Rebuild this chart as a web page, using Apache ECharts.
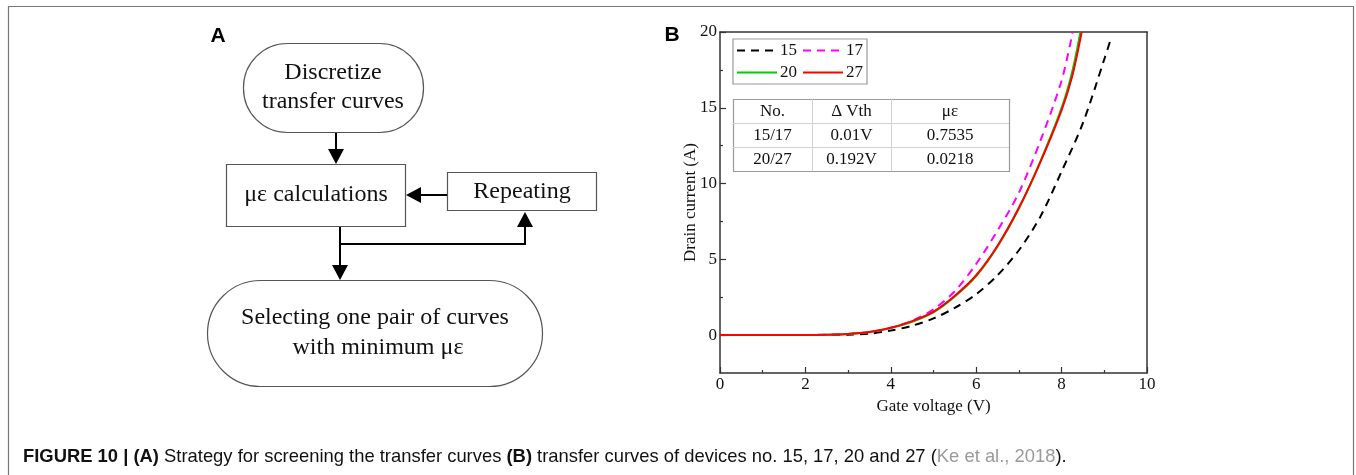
<!DOCTYPE html>
<html>
<head>
<meta charset="utf-8">
<script src="https://cdn.jsdelivr.net/npm/echarts@6/dist/echarts.min.js"></script>
<style>
  html, body { margin: 0; padding: 0; background: #fff; }
  #main { width: 1356px; height: 475px; }
</style>
</head>
<body>
<div id="main"></div>
<script>
// transfer curves
var gate15 = [0, 1, 2, 2.5, 3, 3.5, 4, 4.5, 5, 5.5, 6, 6.5, 7, 7.5, 8, 8.5, 9, 9.17];
var cur15  = [0, 0, 0, 0.01, 0.03, 0.1, 0.3, 0.62, 1.1, 1.8, 2.7, 3.95, 5.6, 7.8, 10.8, 14.0, 18.2, 19.7];
var gate17 = [0, 1, 2, 2.5, 3, 3.5, 4, 4.5, 5, 5.5, 6, 6.5, 7, 7.5, 8, 8.26];
var cur17  = [0, 0, 0.01, 0.03, 0.08, 0.2, 0.48, 0.95, 1.7, 2.9, 4.7, 6.9, 9.4, 12.8, 16.8, 20];
var gate20 = [0, 1, 2, 2.5, 3, 3.5, 4, 4.5, 5, 5.5, 6, 6.5, 7, 7.5, 8, 8.25, 8.44];
var cur20  = [0, 0, 0.01, 0.03, 0.08, 0.2, 0.46, 0.88, 1.5, 2.55, 3.9, 5.85, 8.35, 11.45, 15.0, 17.4, 20];
var gate27 = [0, 1, 2, 2.5, 3, 3.5, 4, 4.5, 5, 5.5, 6, 6.5, 7, 7.5, 8, 8.25, 8.47];
var cur27  = [0, 0, 0.01, 0.03, 0.08, 0.2, 0.48, 0.92, 1.55, 2.6, 3.95, 5.9, 8.4, 11.4, 14.85, 17.1, 20];

var devNames = ['15', '17', '20', '27'];
var yMajor = [0, 5, 10, 15, 20];
var yMinor = [2.5, 7.5, 12.5, 17.5];

// inset table
var tableHead = ['No.', '\u0394 Vth', '\u03bc\u03b5'];
var tableRows = [['15/17', '0.01V', '0.7535'], ['20/27', '0.192V', '0.0218']];

var serif = '"Liberation Serif", "Times New Roman", serif';
var sans = '"Liberation Sans", Arial, sans-serif';

function pairs(xs, ys) {
  var out = [];
  for (var i = 0; i < xs.length; i++) out.push([xs[i], ys[i]]);
  return out;
}

function curve(name, xs, ys, color, type) {
  return {
    name: name,
    type: 'line',
    data: pairs(xs, ys),
    smooth: 0.3,
    symbol: 'none',
    silent: true,
    lineStyle: { color: color, width: 2, type: type === 'dashed' ? [8, 6] : 'solid' },
    itemStyle: { color: color }
  };
}

// ---- table graphic ----
function buildTable() {
  var colX = [733, 812, 891, 1009];
  var rowY = [99, 123, 147, 171];
  var els = [];
  els.push({ type: 'rect', shape: { x: colX[0] + 0.5, y: rowY[0] + 0.5, width: colX[3] - colX[0], height: rowY[3] - rowY[0] },
    style: { fill: '#fff', stroke: '#9a9a9a', lineWidth: 1.2 } });
  for (var c = 1; c < 3; c++) {
    els.push({ type: 'line', shape: { x1: colX[c] + 0.5, y1: rowY[0], x2: colX[c] + 0.5, y2: rowY[3] }, style: { stroke: '#d0d0d0', lineWidth: 1 } });
  }
  for (var r = 1; r < 3; r++) {
    els.push({ type: 'line', shape: { x1: colX[0], y1: rowY[r] + 0.5, x2: colX[3], y2: rowY[r] + 0.5 }, style: { stroke: '#d0d0d0', lineWidth: 1 } });
  }
  var rows = [tableHead].concat(tableRows);
  for (var i = 0; i < rows.length; i++) {
    for (var j = 0; j < 3; j++) {
      els.push({ type: 'text', x: (colX[j] + colX[j + 1]) / 2, y: (rowY[i] + rowY[i + 1]) / 2 + 1,
        style: { text: rows[i][j], fill: '#111', font: '17px ' + serif, align: 'center', verticalAlign: 'middle' } });
    }
  }
  return els;
}

// ---- flowchart graphic ----
function head(x, y, dir) {
  // triangle with tip at (x,y)
  var w = 8, l = 15, pts;
  if (dir === 'down') pts = [[x, y], [x - w, y - l], [x + w, y - l]];
  else if (dir === 'up') pts = [[x, y], [x - w, y + l], [x + w, y + l]];
  else pts = [[x, y], [x + l, y - w], [x + l, y + w]];
  return { type: 'polygon', shape: { points: pts }, style: { fill: '#000' } };
}
function seg(points) {
  return { type: 'polyline', shape: { points: points }, style: { stroke: '#000', lineWidth: 2, fill: null } };
}
function txt(x, y, s, size) {
  return { type: 'text', x: x, y: y, style: { text: s, fill: '#111', font: (size || 24) + 'px ' + serif, align: 'center', verticalAlign: 'middle' } };
}
function buildFlow() {
  var box = { fill: '#fff', stroke: '#555', lineWidth: 1.2 };
  return [
    { type: 'rect', shape: { x: 243.5, y: 43.5, width: 180, height: 89, r: 44 }, style: box },
    txt(333, 73, 'Discretize'), txt(333, 102, 'transfer curves'),
    seg([[336, 133], [336, 150]]), head(336, 164, 'down'),
    { type: 'rect', shape: { x: 226.5, y: 164.5, width: 179, height: 62 }, style: box },
    txt(316, 195, '\u03bc\u03b5 calculations'),
    { type: 'rect', shape: { x: 447.5, y: 172.5, width: 149, height: 38 }, style: box },
    txt(522, 192, 'Repeating'),
    seg([[447, 195], [420, 195]]), head(406, 195, 'left'),
    seg([[340, 227], [340, 244], [525, 244], [525, 226]]), head(525, 212, 'up'),
    seg([[340, 244], [340, 266]]), head(340, 280, 'down'),
    { type: 'rect', shape: { x: 207.5, y: 280.5, width: 335, height: 106, r: 53 }, style: box },
    txt(375, 318, 'Selecting one pair of curves'), txt(378, 348, 'with minimum \u03bc\u03b5')
  ];
}

var chart = echarts.init(document.getElementById('main'));

var axisLine = { show: true, onZero: false, lineStyle: { color: '#333', width: 1.5 } };

var option = {
  backgroundColor: '#fff',
  animation: false,
  grid: { left: 720, right: 209, top: 32, bottom: 102 },
  legend: {
    data: devNames,
    selectedMode: false,
    left: 733, top: 39,
    width: 132,
    padding: [3, 4, 3, 3],
    itemGap: 5,
    itemWidth: 40,
    itemHeight: 14,
    backgroundColor: '#fff',
    borderColor: '#999',
    borderWidth: 1.2,
    itemStyle: { opacity: 0 },
    textStyle: { fontFamily: serif, fontSize: 17, color: '#111', padding: [0, 0, 0, -2] }
  },
  xAxis: [{
    type: 'value', min: 0, max: 10, interval: 2,
    name: 'Gate voltage (V)', nameLocation: 'middle', nameGap: 21,
    nameTextStyle: { fontFamily: serif, fontSize: 17, color: '#111' },
    axisLine: axisLine,
    axisTick: { show: true, inside: true, length: 6, lineStyle: { color: '#333', width: 1.2 } },
    minorTick: { show: true, splitNumber: 2, length: 3, lineStyle: { color: '#333', width: 1.2 } },
    axisLabel: { fontFamily: serif, fontSize: 17, color: '#111', margin: 3 },
    splitLine: { show: false }
  }, {
    type: 'value', position: 'top', min: 0, max: 10,
    axisLine: axisLine, axisTick: { show: false }, axisLabel: { show: false }, splitLine: { show: false }
  }],
  yAxis: [{
    type: 'value', min: -2.5, max: 20,
    name: 'Drain current (A)', nameLocation: 'middle', nameGap: 21, nameMoveOverlap: false,
    nameTextStyle: { fontFamily: serif, fontSize: 17, color: '#111' },
    axisLine: axisLine,
    axisTick: { show: true, inside: true, length: 6, customValues: yMajor, lineStyle: { color: '#333', width: 1.2 } },
    axisLabel: { fontFamily: serif, fontSize: 17, color: '#111', margin: 3, customValues: yMajor },
    splitLine: { show: false }
  }, {
    type: 'value', position: 'left', min: -2.5, max: 20,
    axisLine: { show: false, onZero: false },
    axisTick: { show: true, inside: true, length: 3, customValues: yMinor, lineStyle: { color: '#333', width: 1.2 } },
    axisLabel: { show: false },
    splitLine: { show: false }
  }, {
    type: 'value', position: 'right', min: -2.5, max: 20,
    axisLine: axisLine, axisTick: { show: false }, axisLabel: { show: false }, splitLine: { show: false }
  }],
  series: [
    curve('15', gate15, cur15, '#000000', 'dashed'),
    curve('17', gate17, cur17, '#ff00ff', 'dashed'),
    curve('20', gate20, cur20, '#00d000', 'solid'),
    curve('27', gate27, cur27, '#ff0000', 'solid')
  ],
  graphic: [
    { type: 'rect', z: -10, silent: true, shape: { x: 8.5, y: 6.5, width: 1345, height: 490 }, style: { fill: null, stroke: '#777', lineWidth: 1.2 } },
    { type: 'text', x: 218, y: 36, style: { text: 'A', font: 'bold 21px ' + sans, fill: '#000', align: 'center', verticalAlign: 'middle' } },
    { type: 'text', x: 672, y: 35, style: { text: 'B', font: 'bold 21px ' + sans, fill: '#000', align: 'center', verticalAlign: 'middle' } },
    { type: 'group', children: buildFlow() },
    { type: 'group', z: 100, children: buildTable() },
    { type: 'text', x: 23, y: 457, style: {
      text: '{b|FIGURE 10 | (A)} Strategy for screening the transfer curves {b|(B)} transfer curves of devices no. 15, 17, 20 and 27 ({g|Ke et al., 2018}).',
      font: '18.4px ' + sans, fill: '#111', verticalAlign: 'middle',
      rich: {
        b: { font: 'bold 18.4px ' + sans, fill: '#111' },
        g: { font: '18.4px ' + sans, fill: '#9a9a9a' }
      }
    } }
  ]
};
chart.setOption(option);
</script>
</body>
</html>
